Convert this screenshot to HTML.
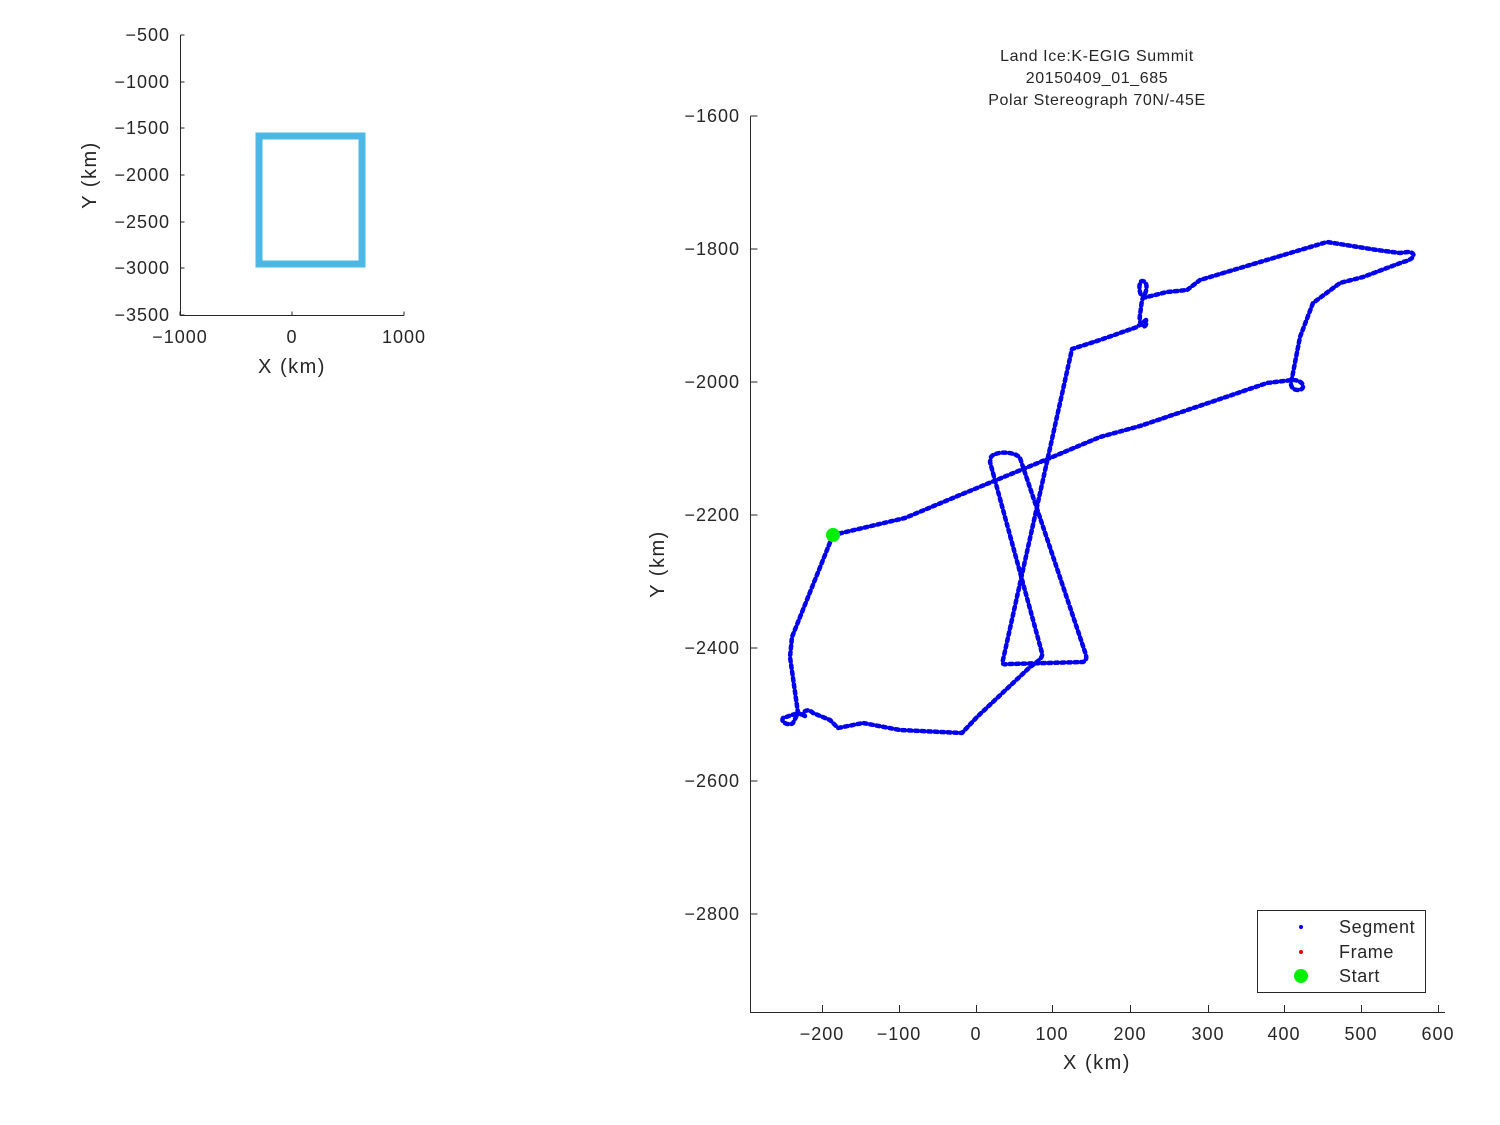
<!DOCTYPE html>
<html><head><meta charset="utf-8"><style>body{margin:0;background:#fff}svg{display:block}text{font-family:"Liberation Sans","DejaVu Sans",sans-serif;fill:#262626}</style></head>
<body>
<svg width="1500" height="1125" viewBox="0 0 1500 1125">
<rect width="1500" height="1125" fill="#fff"/>
<!-- small plot -->
<g stroke="#262626" stroke-width="1" fill="none">
<path d="M180.5 35V315.5H404"/>
<path d="M180.5 35h4M180.5 82h4M180.5 128h4M180.5 175h4M180.5 222h4M180.5 268h4M180.5 315h4"/>
<path d="M180 315.5v-4M292 315.5v-4M404 315.5v-4"/>
</g>
<rect x="259" y="136" width="103" height="128" fill="none" stroke="#4db8e6" stroke-width="7"/>
<g font-size="18" letter-spacing="1" text-anchor="end">
<text x="170" y="41">−500</text><text x="170" y="88">−1000</text><text x="170" y="134">−1500</text><text x="170" y="181">−2000</text><text x="170" y="228">−2500</text><text x="170" y="274">−3000</text><text x="170" y="321">−3500</text>
</g>
<g font-size="18" letter-spacing="1" text-anchor="middle">
<text x="180" y="343">−1000</text><text x="292" y="343">0</text><text x="404" y="343">1000</text>
</g>
<text x="292" y="373" font-size="20" letter-spacing="1.5" text-anchor="middle">X (km)</text>
<text transform="translate(96,175) rotate(-90)" font-size="20" letter-spacing="1.5" text-anchor="middle">Y (km)</text>
<!-- main plot -->
<g stroke="#262626" stroke-width="1" fill="none">
<path d="M750.5 116V1012.5H1445"/>
<path d="M750.5 116h7M750.5 249h7M750.5 382h7M750.5 515h7M750.5 648h7M750.5 781h7M750.5 914h7"/>
<path d="M822.5 1012v-7M899.5 1012v-7M976.5 1012v-7M1052.5 1012v-7M1130.5 1012v-7M1208.5 1012v-7M1284.5 1012v-7M1361.5 1012v-7M1438.5 1012v-7"/>
</g>
<g font-size="18" letter-spacing="1" text-anchor="end">
<text x="740" y="122">−1600</text><text x="740" y="255">−1800</text><text x="740" y="388">−2000</text><text x="740" y="521">−2200</text><text x="740" y="654">−2400</text><text x="740" y="787">−2600</text><text x="740" y="920">−2800</text>
</g>
<g font-size="18" letter-spacing="1" text-anchor="middle">
<text x="822" y="1040">−200</text><text x="899" y="1040">−100</text><text x="976" y="1040">0</text><text x="1052" y="1040">100</text><text x="1130" y="1040">200</text><text x="1208" y="1040">300</text><text x="1284" y="1040">400</text><text x="1361" y="1040">500</text><text x="1438" y="1040">600</text>
</g>
<text x="1097" y="1069" font-size="20" letter-spacing="1.5" text-anchor="middle">X (km)</text>
<text transform="translate(664,564) rotate(-90)" font-size="20" letter-spacing="1.5" text-anchor="middle">Y (km)</text>
<g font-size="16" letter-spacing="0.6" text-anchor="middle">
<text x="1097" y="61">Land Ice:K-EGIG Summit</text>
<text x="1097" y="83">20150409_01_685</text>
<text x="1097" y="105">Polar Stereograph 70N/-45E</text>
</g>
<path fill="none" stroke="#0000ee" stroke-width="4.5" stroke-linecap="round" stroke-linejoin="round" stroke-dasharray="3 3.5"
d="M833 535L905 518L960 495L1050 458L1100 437L1140 426L1223 398L1267 383L1292 380C1305 380 1306 390 1298 390C1290 390 1290 382 1292 378L1300 337L1313 303L1340 283L1363 277L1403 262C1416 259 1416 252 1408 252L1400 253L1377 250L1327 242L1240 268L1200 280L1187 290L1167 292L1147 297C1138 300 1138 281 1142 281C1148 281 1148 290 1142 300L1140 315C1138 328 1148 330 1146 320L1137 327L1100 340L1072 349L1003 660C1001 666 1006 664 1010 664L1083 662C1088 660 1086 655 1085 652L1020 458C1015 451 995 451 991 457L990 462L1042 653C1043 657 1040 660 1030 667L977 717L962 733L900 730L863 723L838 728L830 720L813 713C806 706 800 715 805 716L798 713L783 718C780 723 790 726 793 723L798 713L790 657L792 637L833 535"/>
<path d="M833 535m-7 0a7 7 0 1 0 14 0a7 7 0 1 0 -14 0" fill="#00ee00"/>
<!-- legend -->
<rect x="1257.5" y="910.5" width="168" height="82" fill="#fff" stroke="#262626" stroke-width="1"/>
<circle cx="1301" cy="927" r="2" fill="#0000ee"/>
<circle cx="1301" cy="952" r="2" fill="#ee0000"/>
<circle cx="1301" cy="976" r="7" fill="#00ee00"/>
<g font-size="18" letter-spacing="0.6"><text x="1339" y="933">Segment</text><text x="1339" y="958">Frame</text><text x="1339" y="982">Start</text></g>
</svg>
</body></html>
